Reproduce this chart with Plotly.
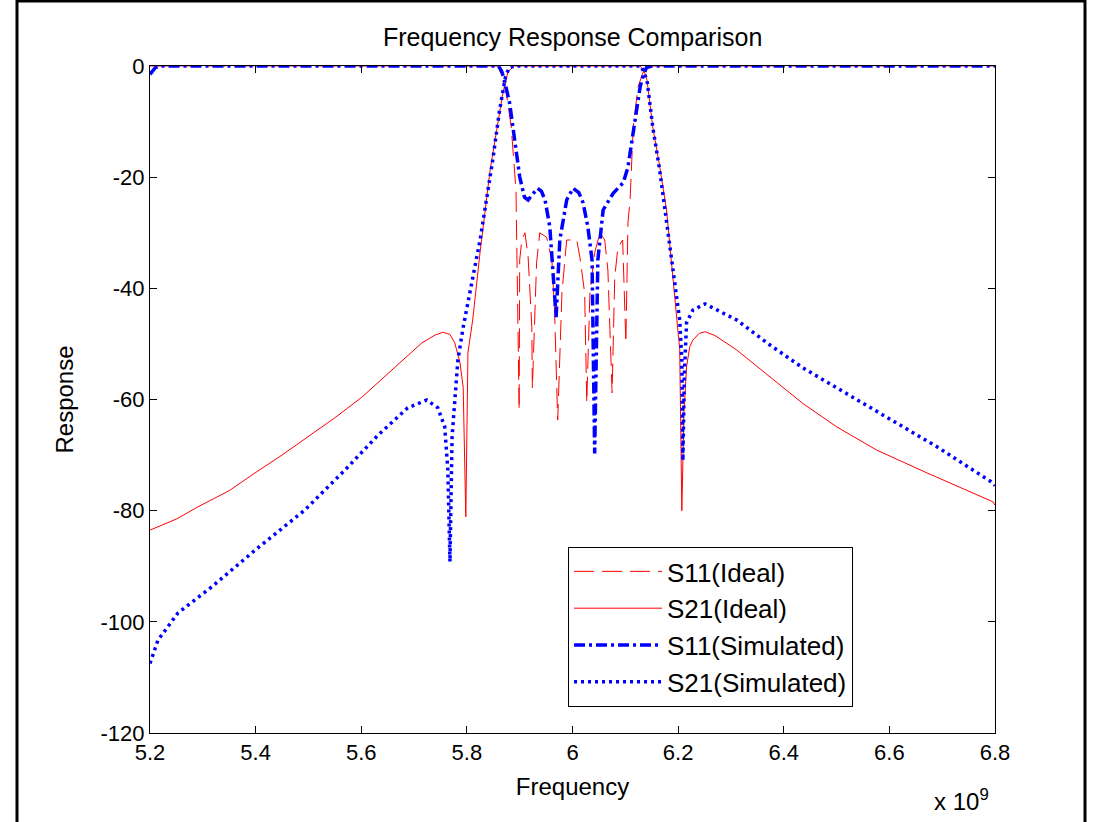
import plotly.graph_objects as go

# ---- data (frequency in units of 1e9 Hz, response in dB) ----
s21_ideal_f = [5.2, 5.25, 5.291, 5.35, 5.399, 5.45, 5.499, 5.55, 5.601, 5.658, 5.715, 5.74,
               5.755, 5.768, 5.777, 5.787, 5.793, 5.798, 5.800, 5.802, 5.811, 5.825, 5.844,
               5.868, 5.878, 5.89, 6.0, 6.128, 6.135, 6.141, 6.152, 6.165, 6.178, 6.190,
               6.199, 6.203, 6.207, 6.211, 6.216, 6.222, 6.228, 6.24, 6.251, 6.27, 6.311,
               6.374, 6.436, 6.500, 6.576, 6.671, 6.796, 6.8]
s21_ideal_db = [-83.5, -81.5, -79.3, -76.4, -73.2, -70.0, -66.7, -63.3, -59.6, -54.7, -49.8, -48.4,
                -47.9, -48.3, -49.8, -53.4, -57.8, -81.1, -60.0, -51.6, -45.7, -33.5, -18.7,
                -4.9, -1.0, 0, 0, 0, -0.8, -2.5, -11.0, -18.0, -25.9, -38.0,
                -48.0, -51.0, -80.0, -62.4, -54.1, -50.5, -49.3, -48.1, -47.8, -48.5, -51.1,
                -55.9, -60.7, -64.9, -69.1, -73.2, -78.4, -79.0]

s11_ideal_f = [5.2, 5.86, 5.866, 5.875, 5.884, 5.887, 5.893, 5.899, 5.900, 5.904, 5.910,
               5.916, 5.923, 5.924, 5.932, 5.938, 5.951, 5.961, 5.966, 5.972, 5.980,
               5.989, 6.008, 6.014, 6.023, 6.027, 6.033, 6.042, 6.052, 6.061, 6.067,
               6.075, 6.080, 6.086, 6.095, 6.101, 6.105, 6.109, 6.115, 6.124, 6.133, 6.14, 6.8]
s11_ideal_db = [0, 0, -2.0, -5.0, -11.0, -14.6, -22.3, -61.9, -34.9, -31.3, -30.0,
                -34.4, -47.0, -58.0, -35.4, -30.0, -30.8, -34.9, -43.9, -63.7, -40.8,
                -31.3, -31.3, -34.4, -40.8, -60.6, -40.8, -33.6, -30.0, -31.3, -36.7,
                -58.8, -38.0, -32.6, -31.3, -49.8, -28.2, -24.1, -11.0, -3.8, -1.3, 0, 0]

s11_sim_f = [5.2, 5.21, 5.22, 5.86, 5.866, 5.871, 5.881, 5.887, 5.894, 5.900, 5.909,
             5.916, 5.925, 5.934, 5.941, 5.948, 5.957, 5.963, 5.969, 5.976, 5.989,
             6.001, 6.012, 6.020, 6.029, 6.037, 6.042, 6.048, 6.058, 6.077, 6.096,
             6.105, 6.112, 6.122, 6.128, 6.133, 6.14, 6.15, 6.8]
s11_sim_db = [-1.5, -0.3, 0, 0, -1.0, -2.5, -6.7, -11.0, -15.7, -19.9, -23.6,
              -24.1, -23.0, -22.0, -22.5, -24.1, -28.9, -36.2, -45.2, -31.3, -24.1,
              -22.0, -22.8, -24.6, -28.9, -34.9, -69.7, -34.9, -25.9, -22.9, -21.0,
              -18.2, -13.9, -7.9, -3.8, -2.0, -0.3, 0, 0]

s21_sim_f = [5.2, 5.215, 5.253, 5.317, 5.399, 5.493, 5.569, 5.632, 5.688, 5.724, 5.745,
             5.758, 5.764, 5.768, 5.772, 5.777, 5.783, 5.793, 5.825, 5.849, 5.862,
             5.873, 5.88, 5.89, 6.13, 6.141, 6.152, 6.165, 6.178, 6.190, 6.203,
             6.207, 6.209, 6.212, 6.216, 6.228, 6.251, 6.311, 6.374, 6.436, 6.5,
             6.563, 6.626, 6.69, 6.796, 6.8]
s21_sim_db = [-107.5, -103.3, -98.4, -93.7, -87.1, -79.9, -72.7, -66.4, -61.5, -60.1, -61.5,
              -64.9, -72.7, -89.2, -66.7, -60.1, -52.9, -47.0, -31.3, -16.9, -7.9,
              -2.0, -0.3, 0, 0, -2.5, -11.0, -18.7, -27.7, -36.2, -45.7,
              -52.9, -71.0, -55.0, -46.2, -43.9, -42.8, -45.7, -50.2, -54.3, -57.9,
              -61.5, -64.9, -68.5, -75.0, -75.5]

x_ticks = [5.2, 5.4, 5.6, 5.8, 6.0, 6.2, 6.4, 6.6, 6.8]
x_tick_text = ["5.2", "5.4", "5.6", "5.8", "6", "6.2", "6.4", "6.6", "6.8"]
y_ticks = [-120, -100, -80, -60, -40, -20, 0]
y_tick_text = ["-120", "-100", "-80", "-60", "-40", "-20", "0"]

FONT = "Liberation Sans, Arial, Helvetica, sans-serif"

fig = go.Figure()
fig.add_trace(go.Scatter(x=s11_ideal_f, y=s11_ideal_db, mode="lines", name="S11(Ideal)",
                         legendgroup="a",
                         line=dict(color="#ff0000", width=1, dash="20px,8px")))
fig.add_trace(go.Scatter(x=s21_ideal_f, y=s21_ideal_db, mode="lines", name="S21(Ideal)",
                         legendgroup="b",
                         line=dict(color="#ff0000", width=1)))
fig.add_trace(go.Scatter(x=s11_sim_f, y=s11_sim_db, mode="lines", name="S11(Simulated)",
                         legendgroup="c",
                         line=dict(color="#0000ff", width=3.5, dash="11px,4px,3px,4px")))
fig.add_trace(go.Scatter(x=s21_sim_f, y=s21_sim_db, mode="lines", name="S21(Simulated)",
                         legendgroup="d",
                         line=dict(color="#0000ff", width=3.5, dash="3px,4px")))

axis_common = dict(showline=True, linecolor="black", linewidth=1, mirror="ticks",
                   ticks="inside", ticklen=7, tickcolor="black", showgrid=False,
                   zeroline=False, tickfont=dict(family=FONT, size=22, color="black"))

fig.update_xaxes(range=[5.2, 6.8], tickvals=x_ticks, ticktext=x_tick_text,
                 title=dict(text="Frequency", font=dict(family=FONT, size=24, color="black"),
                            standoff=13),
                 **axis_common)
fig.update_yaxes(range=[-120, 0], tickvals=y_ticks, ticktext=y_tick_text,
                 title=dict(text="Response", font=dict(family=FONT, size=24, color="black"),
                            standoff=20),
                 **axis_common)

fig.update_layout(
    width=1097, height=822,
    margin=dict(l=150, r=102, t=66, b=89),
    paper_bgcolor="white", plot_bgcolor="white",
    title=dict(text="Frequency Response Comparison", x=0.522, xanchor="center",
               y=0.955, yanchor="middle",
               font=dict(family=FONT, size=25, color="black")),
    legend=dict(x=0.4947, y=0.2789, xanchor="left", yanchor="top",
                bgcolor="white", bordercolor="black", borderwidth=1,
                font=dict(family=FONT, size=26, color="black"),
                itemwidth=88, tracegroupgap=0, traceorder="normal"),
    showlegend=True,
    annotations=[dict(text="x 10<sup>9</sup>", xref="paper", yref="paper",
                      x=0.96, y=-0.10, xanchor="center", yanchor="middle",
                      showarrow=False, font=dict(family=FONT, size=24, color="black"))],
    shapes=[dict(type="rect", xref="paper", yref="paper",
                 x0=(17 - 150) / 845, x1=(1085 - 150) / 845,
                 y0=(733 - 830) / 667, y1=(733 - 1) / 667,
                 line=dict(color="black", width=3), layer="below")],
)

fig.write_html("out.html", config={"displayModeBar": False},
               post_script="document.body.style.margin='0';")
